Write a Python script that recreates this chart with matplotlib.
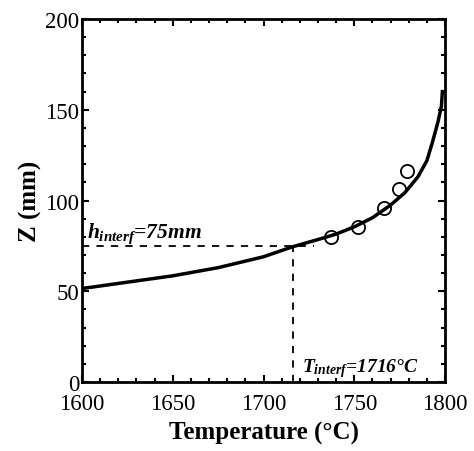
import matplotlib
matplotlib.use("Agg")
import matplotlib.pyplot as plt
from matplotlib.ticker import MultipleLocator

plt.rcParams['font.family'] = ['Liberation Serif', 'DejaVu Serif']
plt.rcParams['mathtext.fontset'] = 'custom'
plt.rcParams['mathtext.it'] = 'Liberation Serif:style=italic:weight=bold'
plt.rcParams['mathtext.rm'] = 'Liberation Serif:weight=bold'
plt.rcParams['mathtext.bf'] = 'Liberation Serif:style=italic:weight=bold'

# Model curve
curve_T = [1600, 1625, 1650, 1675, 1700, 1716, 1730, 1740, 1750, 1760, 1770,
           1778, 1785, 1790, 1793, 1796, 1798, 1798.5]
curve_Z = [51.5, 55, 58.5, 63, 69, 74.5, 78.5, 81.5, 85.5, 90.5, 97.5,
           104.5, 113, 122, 132, 143, 152, 160]

# Measured points
meas_T = [1737.2, 1752.3, 1766.6, 1774.7, 1779.1]
meas_Z = [79.7, 85.6, 95.9, 106.3, 116.1]

T_interf = 1716
h_interf = 75
h_line_end = 1728

fig = plt.figure(figsize=(4.74, 4.52), dpi=100)
ax = fig.add_axes([0.173, 0.1527, 0.766, 0.803])

ax.plot(curve_T, curve_Z, color='black', lw=2.5, zorder=3)
ax.plot(meas_T, meas_Z, 'o', ms=9.5, mfc='none', mec='black', mew=1.3, zorder=4)

ax.plot([1600, h_line_end], [h_interf, h_interf], color='black', lw=1.3,
        ls=(0, (4, 4)), zorder=2)
ax.plot([T_interf, T_interf], [0, h_interf], color='black', lw=1.3,
        ls=(0, (4, 4)), zorder=2)

ax.text(1603, 80, r'$h_{interf}$=75mm', fontsize=15.5, fontweight='bold',
        fontstyle='italic', ha='left', va='baseline')
ax.text(1721, 6, r'$T_{interf}$=1716°C', fontsize=14, fontweight='bold',
        fontstyle='italic', ha='left', va='baseline')

ax.set_xlim(1600, 1800)
ax.set_ylim(0, 200)
ax.xaxis.set_major_locator(MultipleLocator(50))
ax.xaxis.set_minor_locator(MultipleLocator(10))
ax.yaxis.set_major_locator(MultipleLocator(50))
ax.yaxis.set_minor_locator(MultipleLocator(10))
ax.tick_params(which='both', direction='in', top=True, right=True,
               labelsize=16.5)
ax.tick_params(axis='y', pad=2)
ax.tick_params(axis='x', pad=8)
ax.tick_params(which='major', length=5, width=1.5)
ax.tick_params(which='minor', length=3, width=1.5)
for s in ax.spines.values():
    s.set_linewidth(2)

ax.set_xlabel('Temperature (°C)', fontsize=18, fontweight='bold', labelpad=5)
ax.set_ylabel('Z (mm)', fontsize=18, fontweight='bold', labelpad=2)

fig.savefig('out.png', dpi=100)
